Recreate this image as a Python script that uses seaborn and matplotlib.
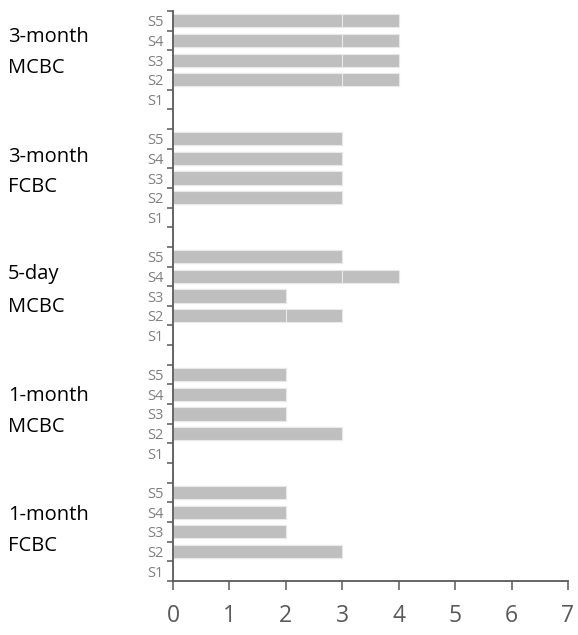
import matplotlib
matplotlib.use("Agg")
import matplotlib.pyplot as plt
import seaborn as sns
import pandas as pd
import numpy as np

# Groups from top to bottom; each group lists S5..S1
groups = ["3-month\nMCBC", "3-month\nFCBC", "5-day\nMCBC", "1-month\nMCBC", "1-month\nFCBC"]
subjects = ["S5", "S4", "S3", "S2", "S1"]

# First segment of each bar
base_values = [
    [3, 3, 3, 3, 0],
    [3, 3, 3, 3, 0],
    [3, 3, 2, 2, 0],
    [2, 2, 2, 3, 0],
    [2, 2, 2, 3, 0],
]
# Additional segment stacked on the first
extra_values = [
    [1, 1, 1, 1, 0],
    [0, 0, 0, 0, 0],
    [0, 1, 0, 1, 0],
    [0, 0, 0, 0, 0],
    [0, 0, 0, 0, 0],
]
x_ticks = [0, 1, 2, 3, 4, 5, 6, 7]

# Build row table: five subject rows per group plus a spacer row between groups
rows, labels, base, total = [], [], [], []
for gi, g in enumerate(groups):
    for si, s in enumerate(subjects):
        rows.append(f"{gi}-{s}")
        labels.append(s)
        base.append(base_values[gi][si])
        total.append(base_values[gi][si] + extra_values[gi][si])
    if gi < len(groups) - 1:
        rows.append(f"{gi}-gap")
        labels.append("")
        base.append(0)
        total.append(0)

df = pd.DataFrame({"row": rows, "base": base, "total": total})

sns.set_style("white")
plt.rcParams["font.family"] = ["Open Sans", "DejaVu Sans"]

fig = plt.figure(figsize=(5.78, 6.35), dpi=100)
ax = fig.add_axes([173 / 578, 1 - 581 / 635, (568 - 173) / 578, (581 - 11) / 635])

bar_kw = dict(orient="h", order=rows, color="#bfbfbf", saturation=1,
              width=0.67, edgecolor="#e9e9e9", linewidth=0.8, ax=ax)
sns.barplot(data=df, x="total", y="row", **bar_kw)
sns.barplot(data=df, x="base", y="row", **bar_kw)

n = len(rows)
ax.set_ylim(n - 0.5, -0.5)
ax.set_xlim(0, 7)

# Subject labels at row centres, tick marks at row boundaries
ax.set_yticks(range(n))
ax.set_yticklabels(labels)
ax.tick_params(axis="y", which="major", length=0, pad=7, labelsize=10.5, labelcolor="#7f7f7f")
ax.set_yticks(np.arange(-0.5, n, 1.0), minor=True)
ax.tick_params(axis="y", which="minor", length=4, width=1.1, color="#595959", direction="out", left=True)

ax.set_xticks(x_ticks)
ax.set_xticklabels([str(t) for t in x_ticks])
ax.tick_params(axis="x", which="major", length=6.5, width=1.1, color="#595959",
               direction="out", bottom=True, pad=10, labelsize=16.5, labelcolor="#595959")

ax.set_xlabel("")
ax.set_ylabel("")
for side in ["top", "right"]:
    ax.spines[side].set_visible(False)
for side in ["left", "bottom"]:
    ax.spines[side].set_color("#595959")
    ax.spines[side].set_linewidth(1.3)

# Group names at the left
group_y = [(37, 68), (157, 187), (274, 307), (396, 427), (515, 546)]
for g, (y1, y2) in zip(groups, group_y):
    l1, l2 = g.split("\n")
    fig.text(8 / 578, 1 - y1 / 635, l1, ha="left", va="center", fontsize=14.5, color="black")
    fig.text(8 / 578, 1 - y2 / 635, l2, ha="left", va="center", fontsize=14.5, color="black")

fig.savefig("out.png", dpi=100)
